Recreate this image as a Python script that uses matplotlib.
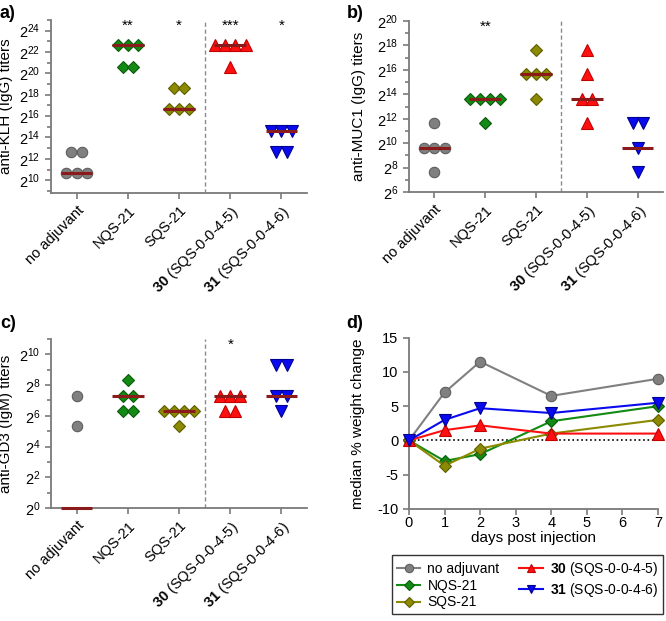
import numpy as np
import matplotlib
matplotlib.use('Agg')
import matplotlib.pyplot as plt
from matplotlib.ticker import FixedLocator, LogFormatterMathtext, NullFormatter

plt.rcParams['font.family'] = ['Liberation Sans', 'DejaVu Sans']
plt.rcParams['mathtext.fontset'] = 'custom'
plt.rcParams['mathtext.rm'] = 'Liberation Sans'
plt.rcParams['mathtext.bf'] = 'Liberation Sans:bold'
plt.rcParams['mathtext.it'] = 'Liberation Sans:italic'
plt.rcParams['axes.unicode_minus'] = False

# groups
tick_labels = ['no adjuvant', 'NQS-21', 'SQS-21',
               r'$\mathbf{30}$ (SQS-0-0-4-5)', r'$\mathbf{31}$ (SQS-0-0-4-6)']

# a) anti-KLH IgG titers (0 = below detection, not drawn)
klh_noadj = [1600, 1600, 1600, 6400, 6400]
klh_nqs = [6553600, 6553600, 6553600, 1638400, 1638400]
klh_sqs = [102400, 102400, 102400, 409600, 409600]
klh_30 = [6553600, 6553600, 6553600, 6553600, 1638400]
klh_31 = [25600, 25600, 25600, 6400, 6400]
klh_stars = ['', '**', '*', '***', '*']

# b) anti-MUC1 IgG titers
muc1_noadj = [800, 800, 800, 3200, 200]
muc1_nqs = [12800, 12800, 12800, 12800, 3200]
muc1_sqs = [204800, 51200, 51200, 51200, 12800]
muc1_30 = [204800, 51200, 12800, 12800, 3200]
muc1_31 = [3200, 3200, 800, 200, 0]
muc1_stars = ['', '**', '', '', '']

# c) anti-GD3 IgM titers
gd3_noadj = [160, 40, 0, 0, 0]
gd3_nqs = [320, 160, 160, 80, 80]
gd3_sqs = [80, 80, 80, 80, 40]
gd3_30 = [160, 160, 160, 80, 80]
gd3_31 = [640, 640, 160, 160, 80]
gd3_stars = ['', '', '', '*', '']

# d) median % weight change
days = [0, 1, 2, 4, 7]
w_noadj = [0, 7, 11.5, 6.5, 9]
w_nqs = [0, -3, -2, 2.8, 5]
w_sqs = [0, -3.7, -1.2, 1, 3]
w_30 = [0, 1.5, 2.2, 1, 1]
w_31 = [0, 3, 4.7, 4, 5.5]

markers = ['o', 'D', 'D', '^', 'v']
colors = ['#808080', '#138a13', '#8c8a00', '#ff1010', '#0a0af0']
edges = ['#5e5e5e', '#0b5a0b', '#5f5d00', '#c00000', '#000090']
msizes = [7.5, 6.5, 6.5, 8, 8]
spine_c = '#7a7a7a'


def style_axes(ax):
    for s in ['top', 'right']:
        ax.spines[s].set_visible(False)
    for s in ['left', 'bottom']:
        ax.spines[s].set_color(spine_c)
        ax.spines[s].set_linewidth(1.3)
    ax.tick_params(which='both', color=spine_c, width=1.2, labelsize=10.5)
    ax.tick_params(which='major', length=4)
    ax.tick_params(which='minor', length=3)


def dot_panel(ax, data, stars, lo, hi, ylabel):
    for i, vals in enumerate(data):
        vals = np.array(vals, float)
        shown = vals[vals > 0]
        for v in np.unique(shown):
            n = int(np.sum(shown == v))
            xs = i + (np.arange(n) - (n - 1) / 2) * 0.2
            ax.plot(xs, [v] * n, ls='none', marker=markers[i], ms=msizes[i],
                    mfc=colors[i], mec=edges[i], mew=0.8, zorder=3)
        med = max(np.median(vals), 2.0 ** lo)
        ax.plot([i - 0.31, i + 0.31], [med, med], color='#8b1a1a', lw=2.2,
                zorder=4, solid_capstyle='butt', clip_on=False)
        ax.text(i, 0.965, stars[i], transform=ax.get_xaxis_transform(),
                ha='center', va='center', fontsize=11)
    ax.axvline(2.5, color='#8a8a8a', ls='--', lw=1, dashes=(3, 2))
    ax.set_yscale('log', base=2)
    ax.set_ylim(2.0 ** lo, 2.0 ** hi)
    even = np.arange(np.ceil(lo / 2) * 2, hi + 0.01, 2)
    odd = np.arange(np.ceil(lo), hi + 0.01, 1)
    odd = odd[odd % 2 == 1]
    ax.yaxis.set_major_locator(FixedLocator(2.0 ** even))
    ax.yaxis.set_minor_locator(FixedLocator(2.0 ** odd))
    ax.yaxis.set_major_formatter(LogFormatterMathtext(base=2))
    ax.yaxis.set_minor_formatter(NullFormatter())
    ax.set_xlim(-0.5, 4.5)
    ax.set_xticks(range(5))
    ax.set_xticklabels(tick_labels, rotation=45, ha='right',
                       rotation_mode='anchor', fontsize=10.5)
    ax.set_ylabel(ylabel, fontsize=11)
    style_axes(ax)


fig = plt.figure(figsize=(6.66, 6.21), dpi=100)

ax_a = fig.add_axes([0.0766, 0.6892, 0.3844, 0.2786])
dot_panel(ax_a, [klh_noadj, klh_nqs, klh_sqs, klh_30, klh_31], klh_stars,
          8.8, 25, 'anti-KLH (IgG) titers')
ax_a.yaxis.set_label_coords(-0.15, 0.5)

ax_b = fig.add_axes([0.6141, 0.6908, 0.3814, 0.2754])
dot_panel(ax_b, [muc1_noadj, muc1_nqs, muc1_sqs, muc1_30, muc1_31], muc1_stars,
          6, 20, 'anti-MUC1 (IgG) titers')
ax_b.yaxis.set_label_coords(-0.17, 0.5)

ax_c = fig.add_axes([0.0766, 0.1820, 0.3844, 0.2721])
dot_panel(ax_c, [gd3_noadj, gd3_nqs, gd3_sqs, gd3_30, gd3_31], gd3_stars,
          0, 11, 'anti-GD3 (IgM) titers')
ax_c.yaxis.set_label_coords(-0.15, 0.5)

# d) weight change
ax_d = fig.add_axes([0.6141, 0.1804, 0.3739, 0.2759])
series = [w_noadj, w_nqs, w_sqs, w_30, w_31]
names = ['no adjuvant', 'NQS-21', 'SQS-21',
         r'$\mathbf{30}$ (SQS-0-0-4-5)', r'$\mathbf{31}$ (SQS-0-0-4-6)']
handles = []
for i, w in enumerate(series):
    h, = ax_d.plot(days, w, color=colors[i], lw=1.5, marker=markers[i],
                   ms=msizes[i], mfc=colors[i], mec=edges[i], mew=0.8,
                   zorder=3 + i * 0.1, clip_on=False)
    handles.append(h)
ax_d.axhline(0, color='black', ls=':', lw=1.2, zorder=2)
ax_d.set_xlim(0, 7)
ax_d.set_ylim(-10, 15)
ax_d.set_xticks(range(8))
ax_d.set_yticks([-10, -5, 0, 5, 10, 15])
ax_d.set_xlabel('days post injection', fontsize=11, labelpad=1)
ax_d.set_ylabel('median % weight change', fontsize=11)
ax_d.yaxis.set_label_coords(-0.175, 0.5)
style_axes(ax_d)
ax_d.tick_params(axis='x', pad=1)

leg = fig.legend(handles, names, ncol=2, loc='upper left',
                 bbox_to_anchor=(392 / 666, 1 - 618 / 621, 271 / 666, 63 / 621),
                 mode='expand', fontsize=10, markerscale=0.8,
                 frameon=True, fancybox=False, edgecolor='black',
                 handlelength=1.7, columnspacing=0.6, handletextpad=0.5,
                 borderpad=0.35, labelspacing=0.2, borderaxespad=0)
leg.get_frame().set_linewidth(1.0)

# panel letters
for x, y, s in [(0.0, 1 - 13 / 621, 'a)'), (0.52, 1 - 13 / 621, 'b)'),
                (0.0, 1 - 323 / 621, 'c)'), (0.52, 1 - 323 / 621, 'd)')]:
    fig.text(x, y, s, fontsize=13, fontweight='bold', va='center', ha='left')

fig.savefig('out.png', dpi=100)
